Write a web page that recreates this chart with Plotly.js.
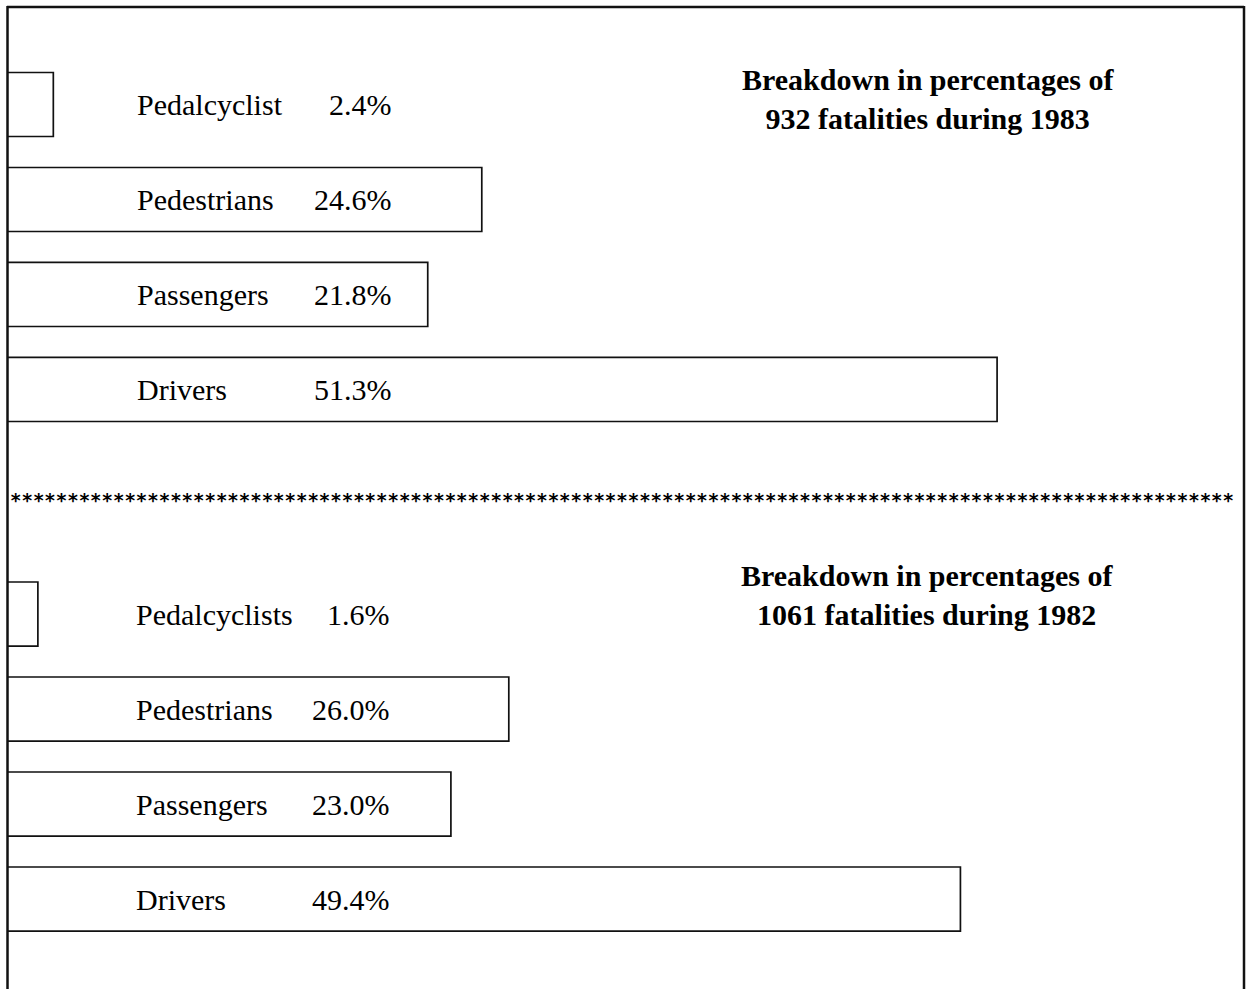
<!DOCTYPE html>
<html>
<head>
<meta charset="utf-8">
<script src="https://cdn.plot.ly/plotly-3.0.1.min.js"></script>
<style>
  html, body { margin: 0; padding: 0; background: #fff; }
  #chart { width: 1246px; height: 989px; }
</style>
</head>
<body>
<div id="chart"></div>
<script>
// ---- Data ----
const categories1983 = ["Drivers", "Passengers", "Pedestrians", "Pedalcyclist"];
const values1983 = [51.3, 21.8, 24.6, 2.4];
const title1983 = "Breakdown in percentages of<br>932 fatalities during 1983";

const categories1982 = ["Drivers", "Passengers", "Pedestrians", "Pedalcyclists"];
const values1982 = [49.4, 23.0, 26.0, 1.6];
const title1982 = "Breakdown in percentages of<br>1061 fatalities during 1982";

// ---- Layout helpers ----
const W = 1246, H = 989;
const px = v => v / W;
const py = v => 1 - v / H;

const serif = "Liberation Serif, Times New Roman, serif";
const barStyle = { color: "#ffffff", line: { color: "#111", width: 1.7 } };

const traces = [
  { type: "bar", orientation: "h", x: values1983, y: categories1983,
    yaxis: "y", xaxis: "x", width: 0.674, marker: barStyle, hoverinfo: "skip" },
  { type: "bar", orientation: "h", x: values1982, y: categories1982,
    yaxis: "y2", xaxis: "x", width: 0.674, marker: barStyle, hoverinfo: "skip" }
];

const annotations = [];
function addLabels(cats, vals, yref, nameX, pctX) {
  cats.forEach((c, i) => {
    annotations.push({ xref: "paper", yref: yref, x: px(nameX), y: c, text: c,
      xanchor: "left", yanchor: "middle", showarrow: false,
      font: { family: serif, size: 30, color: "#000" } });
    annotations.push({ xref: "paper", yref: yref, x: px(pctX), y: c,
      text: vals[i].toFixed(1) + "%",
      xanchor: "right", yanchor: "middle", showarrow: false,
      font: { family: serif, size: 30, color: "#000" } });
  });
}
addLabels(categories1983, values1983, "y", 135, 394);
addLabels(categories1982, values1982, "y2", 134, 392);

annotations.push({ xref: "paper", yref: "paper", x: px(928), y: py(99), text: title1983,
  xanchor: "center", yanchor: "middle", showarrow: false,
  font: { family: serif, size: 30, color: "#000", weight: "bold" } });
annotations.push({ xref: "paper", yref: "paper", x: px(927), y: py(595), text: title1982,
  xanchor: "center", yanchor: "middle", showarrow: false,
  font: { family: serif, size: 30, color: "#000", weight: "bold" } });

// separator row of asterisks
annotations.push({ xref: "paper", yref: "paper", x: px(8), y: py(500), text: "*".repeat(107),
  xanchor: "left", yanchor: "middle", showarrow: false,
  font: { family: "DejaVu Sans Mono, monospace", size: 19, color: "#000", weight: "bold" } });

const pxPerUnit = 19.3;
const layout = {
  width: W, height: H,
  margin: { l: 0, r: 0, t: 0, b: 0, pad: 0 },
  paper_bgcolor: "#fff", plot_bgcolor: "#fff",
  showlegend: false,
  xaxis: { domain: [px(7), px(1244)], range: [0, (1244 - 7) / pxPerUnit],
    visible: false, fixedrange: true },
  yaxis: { domain: [0, 1], type: "category", range: [-6.311, 4.1],
    visible: false, fixedrange: true },
  yaxis2: { domain: [0, 1], type: "category", overlaying: "y", range: [-0.947, 9.463],
    visible: false, fixedrange: true },
  annotations: annotations,
  shapes: [
    { type: "line", xref: "paper", yref: "paper", x0: px(7), x1: px(1244), y0: py(7), y1: py(7),
      line: { color: "#111", width: 2.5 } },
    { type: "line", xref: "paper", yref: "paper", x0: px(7.5), x1: px(7.5), y0: py(6), y1: 0,
      line: { color: "#111", width: 2.5 } },
    { type: "line", xref: "paper", yref: "paper", x0: px(1244), x1: px(1244), y0: py(6), y1: 0,
      line: { color: "#111", width: 2.5 } }
  ]
};

Plotly.newPlot("chart", traces, layout, { displayModeBar: false, staticPlot: true });
</script>
</body>
</html>
